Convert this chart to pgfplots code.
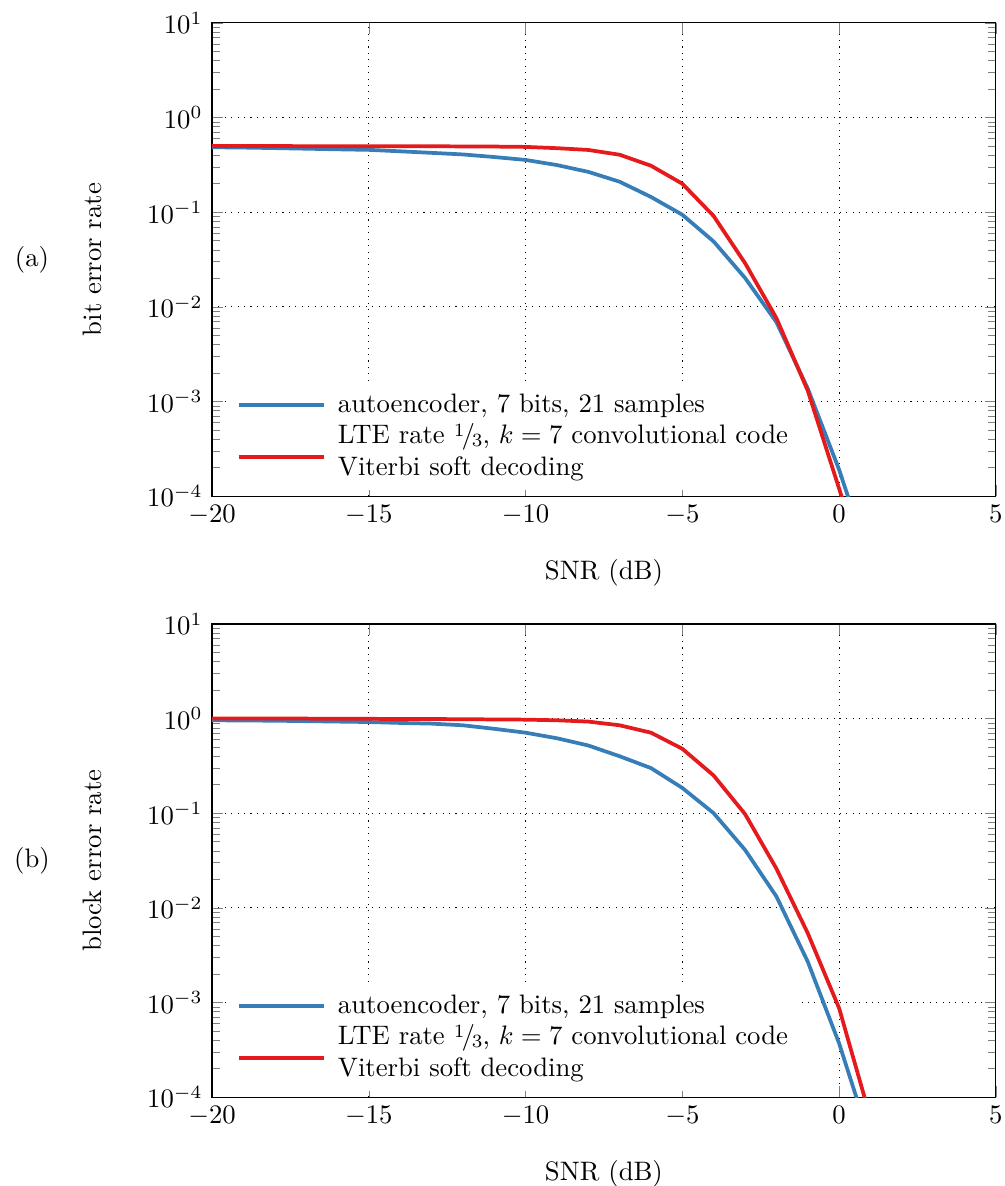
\documentclass[border=0pt]{standalone}
\usepackage{pgfplots}
\pgfplotsset{compat=1.18}
\definecolor{aeblue}{HTML}{377EB8}
\definecolor{ltered}{HTML}{E41A1C}
\newcommand{\third}{\raisebox{.55ex}{\scriptsize 1}\kern-.1em/\kern-.12em\lower.3ex\hbox{\scriptsize 3}}
\begin{document}
\begin{tikzpicture}
\begin{axis}[
    name=top,
    scale only axis, clip mode=individual,
    width=293.6pt, height=177.2pt,
    ymode=log,
    xmin=-20, xmax=5, ymin=1e-4, ymax=10,
    xtick={-20,-15,-10,-5,0,5},
    grid=major,
    major grid style={dotted, black},
    xlabel={SNR (dB)},
    xlabel style={at={(axis description cs:0.5,-0.1625)}, anchor=center},
    ylabel={bit error rate},
    ylabel style={at={(axis description cs:-0.152,0.5)}, anchor=center},
    legend cell align=left,
    legend style={at={(axis description cs:0.021,0.012)}, anchor=south west, draw=none, fill=white, cells={align=left}, row sep=-1.5pt},
    legend image code/.code={\draw[#1] (0cm,0cm) -- (1.12cm,0cm); \path (1.21cm,0cm);},
]
\addplot[aeblue, line width=1.4pt] coordinates {
(-20,0.486) (-19,0.482) (-18,0.476) (-17,0.469) (-16,0.462) (-15,0.456) (-14,0.440) (-13,0.424) (-12,0.408) (-11,0.383) (-10,0.357) (-9,0.315) (-8,0.267) (-7,0.210) (-6,0.145) (-5,0.094) (-4,0.049) (-3,0.0202) (-2,0.0069) (-1,0.00137) (0,0.00019) (1,0.000019)};
\addlegendentry{autoencoder, 7 bits, 21 samples}
\addplot[ltered, line width=1.4pt, legend image post style={yshift=-2.2pt}] coordinates {
(-20,0.500) (-19,0.500) (-18,0.500) (-17,0.499) (-16,0.499) (-15,0.498) (-14,0.498) (-13,0.497) (-12,0.496) (-11,0.494) (-10,0.490) (-9,0.475) (-8,0.455) (-7,0.405) (-6,0.310) (-5,0.200) (-4,0.091) (-3,0.029) (-2,0.0076) (-1,0.0013) (0,0.00012) (1,0.00001)};
\addlegendentry{LTE rate \third, $k=7$ convolutional code\\Viterbi soft decoding}
\node at (axis description cs:-0.2296,0.5) {(a)};
\end{axis}
\begin{axis}[
    name=bot,
    at={(0,-225.1pt)},
    scale only axis, clip mode=individual,
    width=293.6pt, height=177.2pt,
    ymode=log,
    xmin=-20, xmax=5, ymin=1e-4, ymax=10,
    xtick={-20,-15,-10,-5,0,5},
    grid=major,
    major grid style={dotted, black},
    xlabel={SNR (dB)},
    xlabel style={at={(axis description cs:0.5,-0.1625)}, anchor=center},
    ylabel={block error rate},
    ylabel style={at={(axis description cs:-0.152,0.5)}, anchor=center},
    legend cell align=left,
    legend style={at={(axis description cs:0.021,0.012)}, anchor=south west, draw=none, fill=white, cells={align=left}, row sep=-1.5pt},
    legend image code/.code={\draw[#1] (0cm,0cm) -- (1.12cm,0cm); \path (1.21cm,0cm);},
]
\addplot[aeblue, line width=1.4pt] coordinates {
(-20,0.96) (-19,0.955) (-18,0.95) (-17,0.94) (-16,0.93) (-15,0.92) (-14,0.90) (-13,0.885) (-12,0.85) (-11,0.78) (-10,0.71) (-9,0.62) (-8,0.52) (-7,0.40) (-6,0.30) (-5,0.185) (-4,0.10) (-3,0.041) (-2,0.0132) (-1,0.0027) (0,0.00037) (1,0.000034)};
\addlegendentry{autoencoder, 7 bits, 21 samples}
\addplot[ltered, line width=1.4pt, legend image post style={yshift=-2.2pt}] coordinates {
(-20,1.0) (-19,1.0) (-18,1.0) (-17,1.0) (-16,0.995) (-15,0.995) (-14,0.99) (-13,0.99) (-12,0.985) (-11,0.98) (-10,0.975) (-9,0.96) (-8,0.93) (-7,0.85) (-6,0.71) (-5,0.48) (-4,0.25) (-3,0.098) (-2,0.026) (-1,0.0054) (0,0.00087) (1,0.00006)};
\addlegendentry{LTE rate \third, $k=7$ convolutional code\\Viterbi soft decoding}
\node at (axis description cs:-0.2296,0.5) {(b)};
\end{axis}
\pgfresetboundingbox
\path ([xshift=-79.4pt,yshift=8.6pt]top.north west) rectangle ([xshift=3.4pt,yshift=-33.3pt]bot.south east);
\end{tikzpicture}
\end{document}
